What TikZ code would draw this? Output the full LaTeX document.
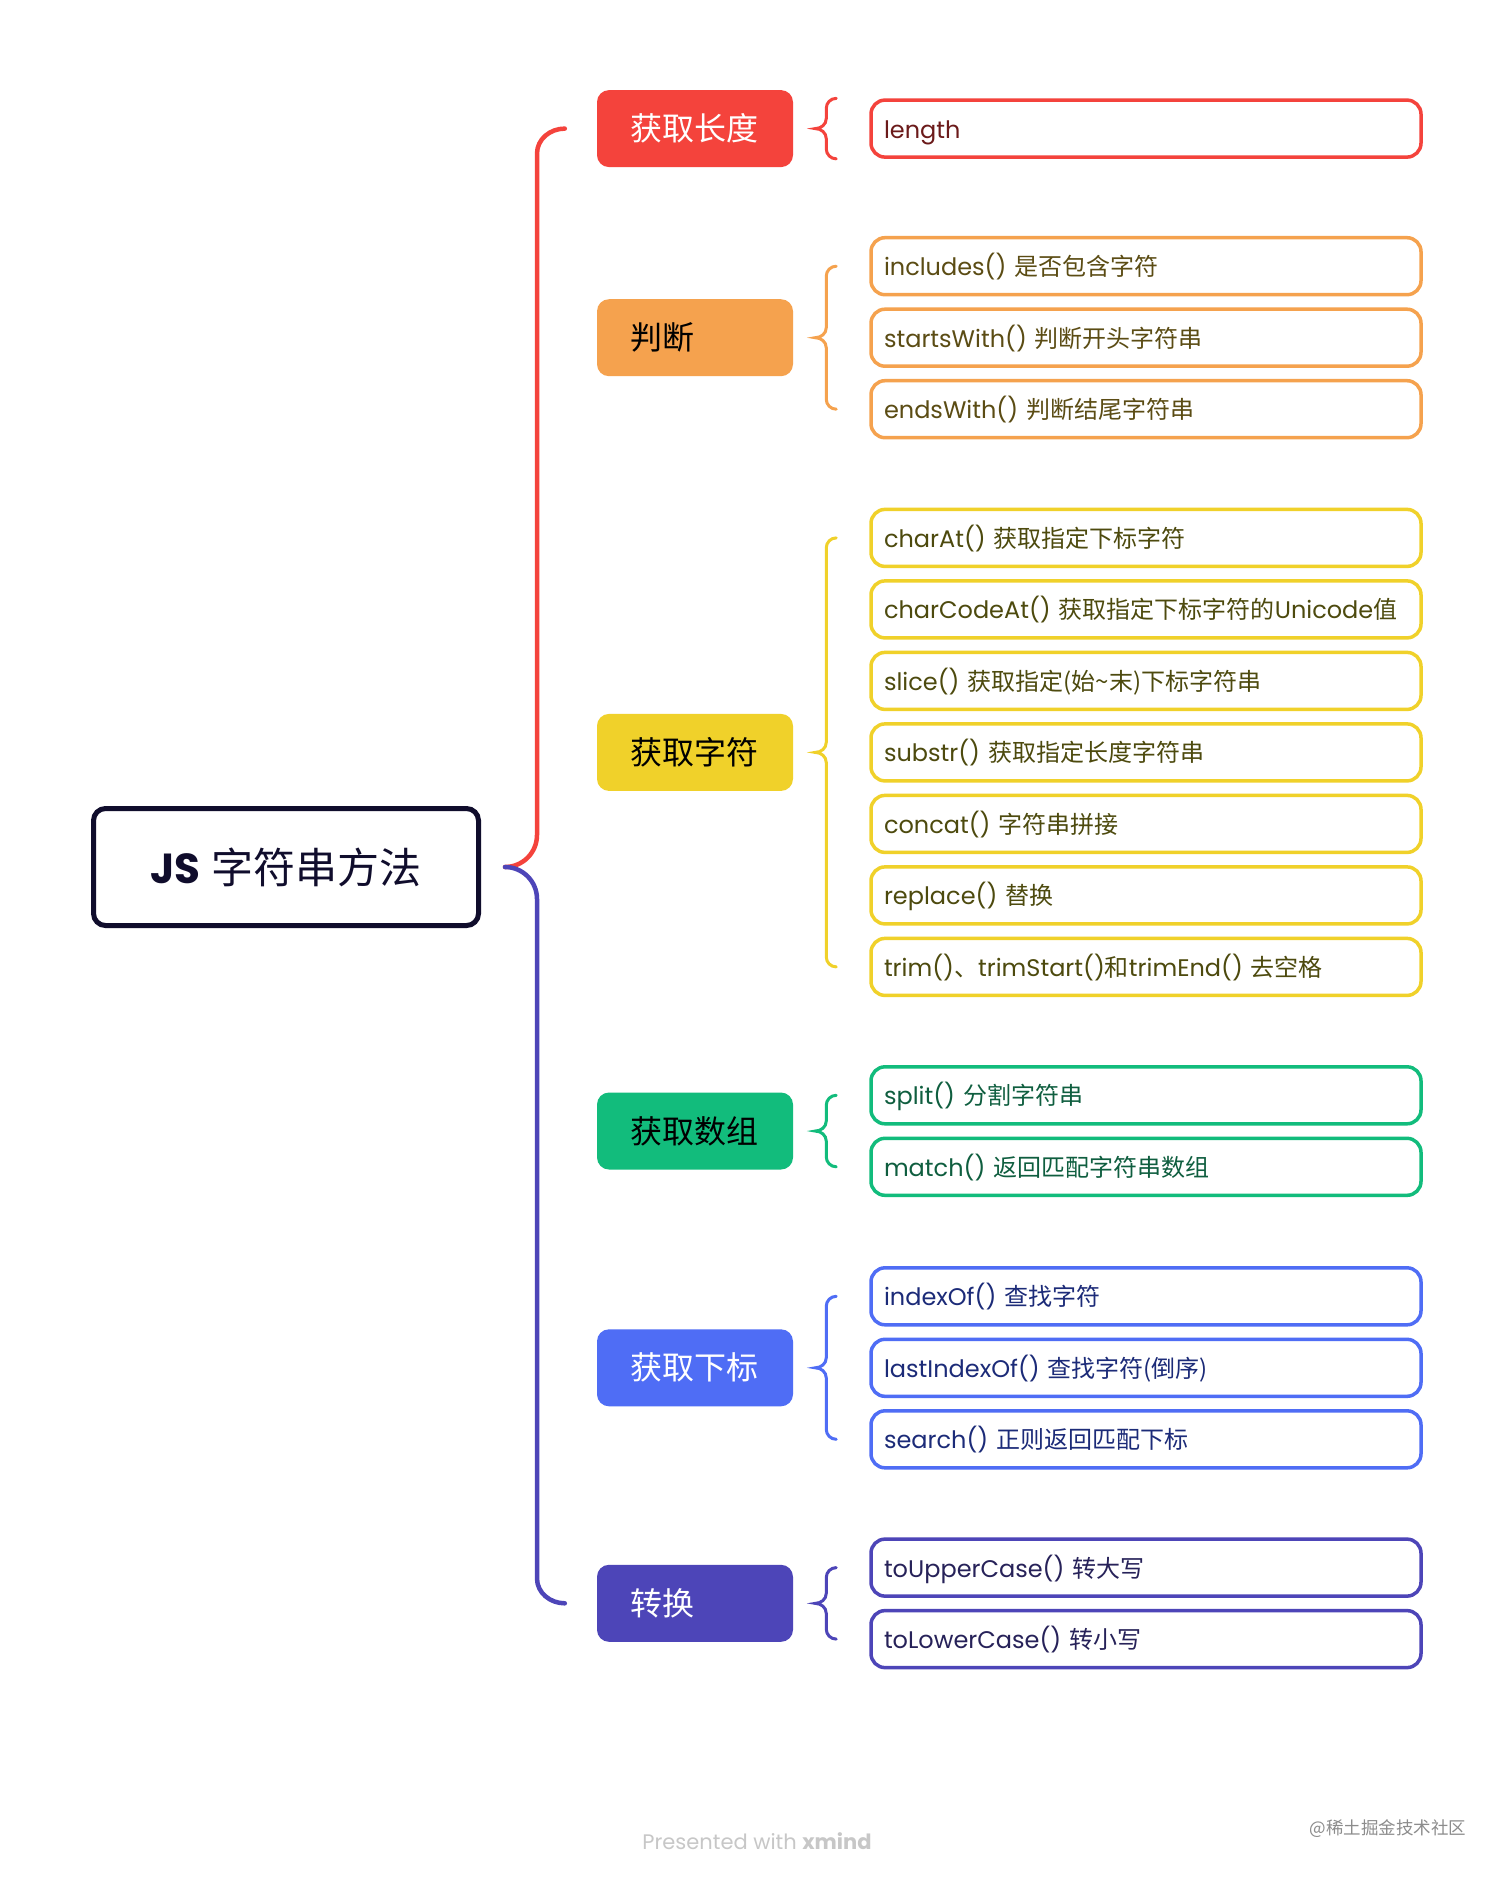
\documentclass[tikz,border=0pt]{standalone}
\usepackage{fontspec}
\setmainfont{Poppins}
\newfontfamily\zh{Noto Sans CJK SC}
\usetikzlibrary{positioning,calc}
\definecolor{xmnavy}{HTML}{100D2C}
\definecolor{xmred}{HTML}{F4433C}
\definecolor{xmorange}{HTML}{F5A24E}
\definecolor{xmyellow}{HTML}{F0D12A}
\definecolor{xmgreen}{HTML}{12BC7C}
\definecolor{xmblue}{HTML}{4F6DF5}
\definecolor{xmindigo}{HTML}{4D45B8}
\definecolor{xmredtext}{HTML}{6B1A1A}
\definecolor{xmorangetext}{HTML}{5B4C14}
\definecolor{xmyellowtext}{HTML}{4D4A0E}
\definecolor{xmgreentext}{HTML}{0F5E3F}
\definecolor{xmbluetext}{HTML}{1C2B78}
\definecolor{xmindigotext}{HTML}{272259}

% curly bracket in front of a group of leaves
\newcommand\grp[3]{%
  \draw[cbr,draw=#3] let \p1=(#1), \p2=(#2), \n1={(\y1+\y2)/2} in
    (\x1-33pt,\y1) to[out=180,in=90] (\x1-43pt,\y1-10pt)
    -- (\x1-43pt,\n1+10pt) to[out=-90,in=0] (\x1-54pt,\n1)
    to[out=0,in=90] (\x1-43pt,\n1-10pt)
    -- (\x1-43pt,\y2+10pt) to[out=-90,in=180] (\x1-33pt,\y2);}

\begin{document}
\begin{tikzpicture}[x=1pt,y=-1pt,
    topic/.style={fill=#1,rounded corners=12pt,minimum height=77pt,text width=130pt,
      inner xsep=33pt,inner ysep=0pt,align=left,font=\zh\fontsize{32}{36}\selectfont},
    leaf/.style={draw=#1,text=#1text,fill=white,line width=3.5pt,rounded corners=14pt,
      minimum height=57pt,text width=524pt,text height=21pt,text depth=2pt,
      inner xsep=13pt,inner ysep=0pt,align=left,font=\fontsize{24}{28}\selectfont},
    cbr/.style={line width=3pt,line cap=round},
    trunk/.style={line width=4.5pt,line cap=round},
    node distance=11pt]
  \fill[white] (0,0) rectangle (1512,1884);

  \node[draw=xmnavy,line width=5pt,rounded corners=12pt,minimum width=385pt,minimum height=117pt,
    text=xmnavy,font=\fontsize{42}{48}\selectfont] (root) at (286,867) {\textbf{JS} {\zh 字符串方法}};

  \node[topic=xmred,text=white] (len) at (695,128.6) {获取长度};
  \node[topic=xmorange,text=black] (jud) at (695,337.7) {判断};
  \node[topic=xmyellow,text=black] (chr) at (695,752.4) {获取字符};
  \node[topic=xmgreen,text=black] (arr) at (695,1131) {获取数组};
  \node[topic=xmblue,text=white] (idx) at (695,1367.8) {获取下标};
  \node[topic=xmindigo,text=white] (cvt) at (695,1603.3) {转换};

  % leaves
  \node[leaf=xmred] (len1) at (1146,128.6) {length};

  \node[leaf=xmorange] (jud1) at (1146,266.2) {includes() {\zh 是否包含字符}};
  \node[leaf=xmorange,below=of jud1] (jud2) {startsWith() {\zh 判断开头字符串}};
  \node[leaf=xmorange,below=of jud2] (jud3) {endsWith() {\zh 判断结尾字符串}};

  \node[leaf=xmyellow] (chr1) at (1146,537.9) {charAt() {\zh 获取指定下标字符}};
  \node[leaf=xmyellow,below=of chr1] (chr2) {charCodeAt() {\zh 获取指定下标字符的}Unicode{\zh 值}};
  \node[leaf=xmyellow,below=of chr2] (chr3) {slice() {\zh 获取指定(始\string~末)下标字符串}};
  \node[leaf=xmyellow,below=of chr3] (chr4) {substr() {\zh 获取指定长度字符串}};
  \node[leaf=xmyellow,below=of chr4] (chr5) {concat() {\zh 字符串拼接}};
  \node[leaf=xmyellow,below=of chr5] (chr6) {replace() {\zh 替换}};
  \node[leaf=xmyellow,below=of chr6] (chr7) {trim(){\zh 、}trimStart(){\zh 和}trimEnd() {\zh 去空格}};

  \node[leaf=xmgreen] (arr1) at (1146,1095.3) {split() {\zh 分割字符串}};
  \node[leaf=xmgreen,below=of arr1] (arr2) {match() {\zh 返回匹配字符串数组}};

  \node[leaf=xmblue] (idx1) at (1146,1296.3) {indexOf() {\zh 查找字符}};
  \node[leaf=xmblue,below=of idx1] (idx2) {lastIndexOf() {\zh 查找字符(倒序)}};
  \node[leaf=xmblue,below=of idx2] (idx3) {search() {\zh 正则返回匹配下标}};

  \node[leaf=xmindigo] (cvt1) at (1146,1567.6) {toUpperCase() {\zh 转大写}};
  \node[leaf=xmindigo,below=of cvt1] (cvt2) {toLowerCase() {\zh 转小写}};

  % brackets
  \grp{len1.north west}{len1.south west}{xmred}
  \grp{jud1.west}{jud3.west}{xmorange}
  \grp{chr1.west}{chr7.west}{xmyellow}
  \grp{arr1.west}{arr2.west}{xmgreen}
  \grp{idx1.west}{idx3.west}{xmblue}
  \grp{cvt1.west}{cvt2.west}{xmindigo}

  % main bracket from the root
  \draw[trunk,draw=xmred] let \p1=(root.east), \p2=(len.west) in
    (\x1+24pt,\y1) to[out=0,in=-90] (\x1+56pt,\y1+32pt)
    -- (\x1+56pt,\y2-25pt) to[out=90,in=180] (\x2-32pt,\y2);
  \draw[trunk,draw=xmindigo] let \p1=(root.east), \p2=(cvt.west) in
    (\x1+24pt,\y1) to[out=0,in=90] (\x1+56pt,\y1-32pt)
    -- (\x1+56pt,\y2+25pt) to[out=-90,in=180] (\x2-32pt,\y2);

  \node[text=black!22,font=\fontsize{21}{24}\selectfont] (credit) at (757,1841)
    {Presented with \textbf{xmind}};
  \node[text=black!45,font=\zh\fontsize{17.5}{20}\selectfont] (watermark) at (1388,1829)
    {@稀土掘金技术社区};
\end{tikzpicture}
\end{document}
